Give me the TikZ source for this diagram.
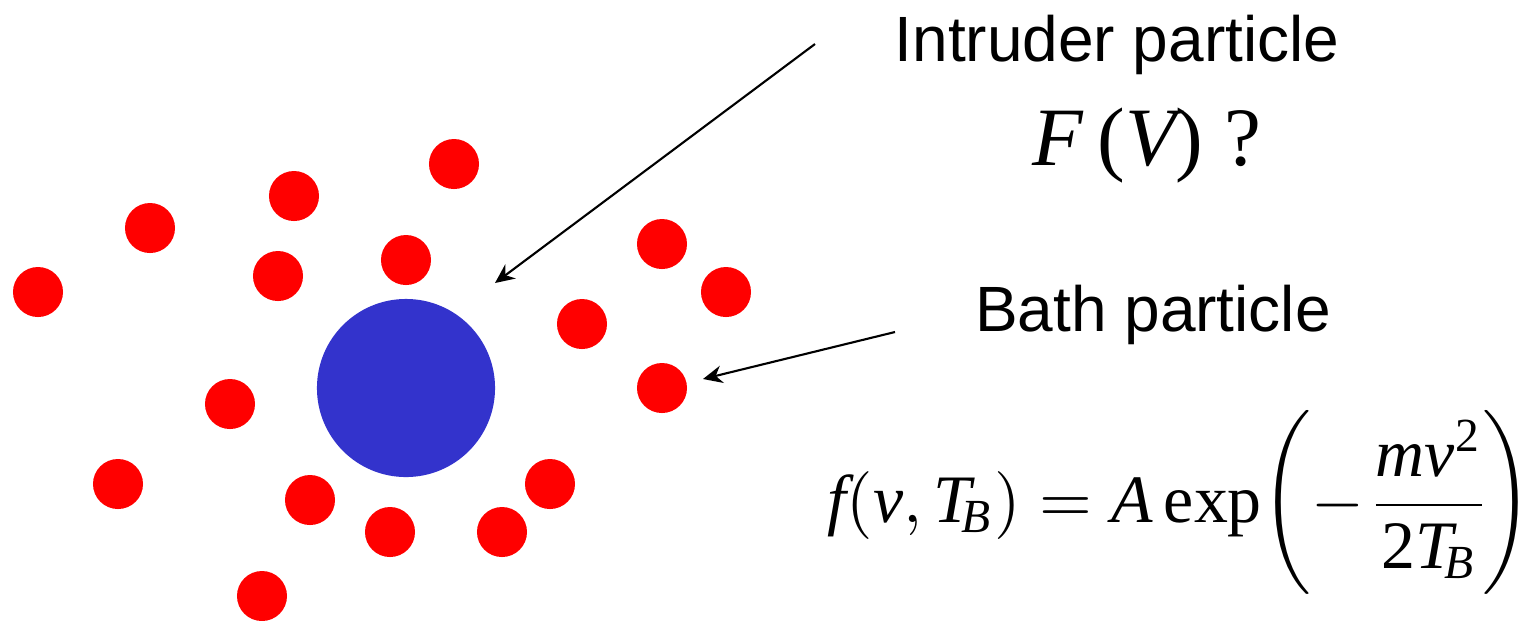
\documentclass[tikz,border=0pt]{standalone}
\usepackage{amsmath}
\usepackage{graphicx}
\usepackage{fontspec}
\setmainfont{Liberation Sans}
\newfontfamily\tms{Liberation Serif}
\newcommand\ti[1]{\text{\tms\itshape #1}}
\newcommand\tu[1]{\text{\tms #1}}
\newcommand\tallpar[2]{\scalebox{1}[1.13]{$\left#1\vphantom{\dfrac{\ti{mv}^{\tu{2}}}{\tu{2}\ti{T}_{\!\ti{B}}}}\right#2$}}
\usetikzlibrary{arrows.meta}
\definecolor{intrblue}{RGB}{51,51,204}
\tikzset{
  bathpt/.style={circle,fill=red,minimum size=5mm,inner sep=0pt},
  intrpt/.style={circle,fill=intrblue,minimum size=17.8mm,inner sep=0pt},
  ptr/.style={-{Stealth[length=5.5pt,width=5pt]},line width=0.6pt},
  lbl/.style={font=\fontsize{18.2}{22}\selectfont,anchor=base,inner sep=0pt},
  eqn/.style={scale=1.93,inner sep=0pt,font=\tms,anchor=base},
  fvtxt/.style={scale=2.36,inner sep=0pt,font=\tms,anchor=base},
}
\begin{document}
\begin{tikzpicture}[x=0.01cm,y=-0.01cm]
  \useasboundingbox (0,0) rectangle (1526,620);
  % bath particles
  \foreach \n/\px/\py in {1/38/292,2/150/228,3/294/196,4/454/164,5/278/276,
      6/406/260,7/662/244,8/726/292,9/582/324,10/662/388,11/230/404,
      12/118/484,13/310/500,14/390/532,15/502/532,16/550/484,17/262/596}
    \node[bathpt] (b\n) at (\px,\py) {};
  % intruder
  \node[intrpt] (intruder) at (406,388) {};
  % labels
  \node[lbl] (intrlbl) at (1117,61) {Intruder particle};
  \node[fvtxt] (fvlbl) at (1147,165) {\itshape F\,\upshape(\itshape V\upshape)\hspace{0.25em}?};
  \node[lbl] (bathlbl) at (1153,331) {Bath particle};
  \node[eqn] (maxw) at (1180,522)
    {\nulldelimiterspace=0pt\relax
     $\ti{f}(\ti{v},\ti{T}_{\!\ti{B}})=\ti{A}\,\tu{exp}\tallpar{(}{.}{-}\,\dfrac{\ti{mv}^{\tu{2}}}{\tu{2}\ti{T}_{\!\ti{B}}}\tallpar{.}{)}$};
  % pointers
  \coordinate (intrtail) at (815,44);
  \coordinate (intrtip) at (495,283);
  \coordinate (bathtail) at (895,332);
  \coordinate (bathtip) at (703,379);
  \draw[ptr] (intrtail) -- (intrtip);
  \draw[ptr] (bathtail) -- (bathtip);
\end{tikzpicture}
\end{document}
